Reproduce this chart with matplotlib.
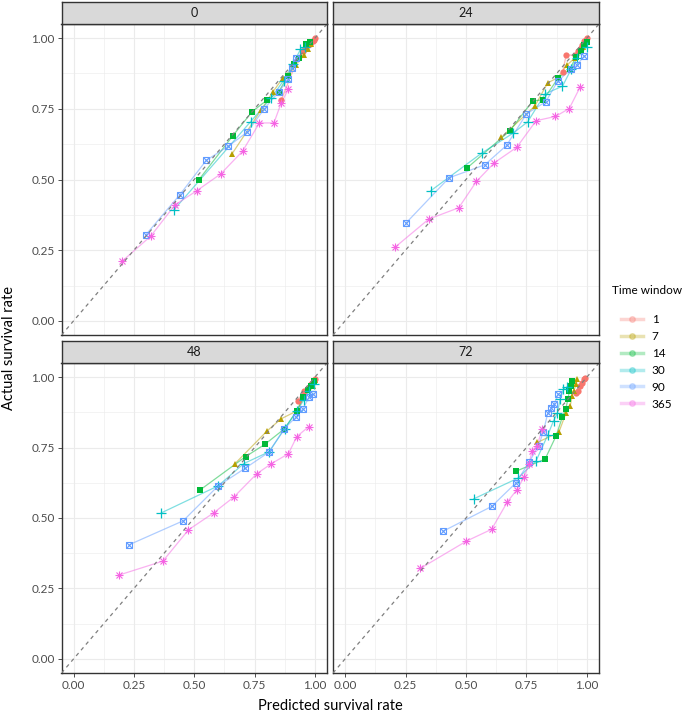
import matplotlib
matplotlib.use('Agg')
import matplotlib.pyplot as plt
from matplotlib.lines import Line2D
import numpy as np

plt.rcParams['font.family'] = ['Lato', 'DejaVu Sans']

windows = ['1', '7', '14', '30', '90', '365']
colors = ['#F8766D', '#B79F00', '#00BA38', '#00BFC4', '#619CFF', '#F564E3']
hours = ['0', '24', '48', '72']

# predicted / actual survival per hour panel, one list per time window
pred_h0 = [
    [0.86, 0.93, 0.95, 0.96, 0.97, 0.98, 0.985, 0.99, 0.995, 1.0],
    [0.656, 0.777, 0.826, 0.866, 0.89, 0.92, 0.956, 0.97, 0.985],
    [0.52, 0.66, 0.74, 0.80, 0.85, 0.887, 0.915, 0.935, 0.963, 0.98],
    [0.416, 0.734, 0.82, 0.87, 0.91, 0.94, 0.96],
    [0.30, 0.44, 0.55, 0.64, 0.72, 0.79, 0.85, 0.89, 0.905, 0.92],
    [0.20, 0.32, 0.42, 0.51, 0.61, 0.70, 0.77, 0.83, 0.86, 0.89],
]
act_h0 = [
    [0.78, 0.93, 0.955, 0.965, 0.975, 0.98, 0.985, 0.99, 0.993, 1.0],
    [0.59, 0.746, 0.81, 0.858, 0.87, 0.905, 0.94, 0.96, 0.98],
    [0.50, 0.655, 0.74, 0.78, 0.81, 0.866, 0.907, 0.93, 0.98, 0.985],
    [0.393, 0.705, 0.79, 0.85, 0.91, 0.96, 0.97],
    [0.305, 0.446, 0.568, 0.617, 0.668, 0.75, 0.81, 0.855, 0.895, 0.93],
    [0.21, 0.30, 0.41, 0.46, 0.52, 0.60, 0.70, 0.70, 0.77, 0.82],
]

pred_h24 = [
    [0.90, 0.914, 0.95, 0.965, 0.975, 0.98, 0.986, 0.99, 0.995, 1.0],
    [0.646, 0.785, 0.838, 0.88, 0.917, 0.95, 0.975, 0.985, 0.995],
    [0.505, 0.682, 0.776, 0.82, 0.882, 0.93, 0.954, 0.976, 0.989, 1.0],
    [0.354, 0.566, 0.695, 0.755, 0.827, 0.899, 0.935, 0.96, 1.0],
    [0.252, 0.43, 0.578, 0.668, 0.75, 0.83, 0.88, 0.935, 0.96, 0.989],
    [0.206, 0.346, 0.47, 0.543, 0.617, 0.71, 0.79, 0.87, 0.927, 0.972],
]
act_h24 = [
    [0.88, 0.94, 0.94, 0.955, 0.965, 0.975, 0.983, 0.99, 0.995, 1.0],
    [0.649, 0.76, 0.842, 0.86, 0.904, 0.93, 0.958, 0.97, 0.985],
    [0.541, 0.673, 0.778, 0.782, 0.86, 0.89, 0.933, 0.955, 0.975, 0.985],
    [0.46, 0.594, 0.664, 0.704, 0.803, 0.83, 0.89, 0.93, 0.97],
    [0.346, 0.506, 0.552, 0.621, 0.732, 0.775, 0.849, 0.89, 0.905, 0.938],
    [0.26, 0.36, 0.40, 0.493, 0.559, 0.614, 0.708, 0.723, 0.751, 0.827],
]

pred_h48 = [
    [0.928, 0.955, 0.97, 0.985, 0.995, 1.0],
    [0.669, 0.803, 0.86, 0.925, 0.955, 0.975, 0.99, 1.0],
    [0.525, 0.713, 0.792, 0.873, 0.925, 0.952, 0.97, 0.985, 0.995],
    [0.363, 0.599, 0.705, 0.81, 0.875, 0.925, 0.955, 0.975, 0.995],
    [0.23, 0.454, 0.599, 0.71, 0.81, 0.872, 0.92, 0.95, 0.975, 0.99],
    [0.19, 0.37, 0.476, 0.58, 0.665, 0.759, 0.82, 0.89, 0.925, 0.974],
]
act_h48 = [
    [0.916, 0.95, 0.96, 0.975, 0.985, 0.995],
    [0.693, 0.81, 0.852, 0.88, 0.93, 0.955, 0.97, 0.99],
    [0.60, 0.718, 0.761, 0.816, 0.88, 0.93, 0.955, 0.97, 0.985],
    [0.518, 0.614, 0.693, 0.735, 0.817, 0.88, 0.92, 0.95, 0.976],
    [0.405, 0.49, 0.614, 0.676, 0.734, 0.816, 0.857, 0.887, 0.928, 0.94],
    [0.298, 0.347, 0.458, 0.518, 0.575, 0.657, 0.693, 0.728, 0.789, 0.824],
]

pred_h72 = [
    [0.954, 0.965, 0.972, 0.979, 0.986, 0.993],
    [0.795, 0.884, 0.914, 0.931, 0.939, 0.946, 0.955, 0.961],
    [0.707, 0.827, 0.873, 0.899, 0.913, 0.921, 0.928, 0.934, 0.94],
    [0.532, 0.714, 0.79, 0.838, 0.862, 0.878, 0.889, 0.903, 0.917],
    [0.405, 0.606, 0.707, 0.762, 0.80, 0.82, 0.838, 0.852, 0.864, 0.882],
    [0.311, 0.502, 0.606, 0.671, 0.711, 0.74, 0.76, 0.774, 0.793, 0.816],
]
act_h72 = [
    [0.945, 0.95, 0.967, 0.98, 0.992, 0.998],
    [0.768, 0.804, 0.874, 0.898, 0.933, 0.951, 0.974, 0.994],
    [0.666, 0.709, 0.792, 0.86, 0.888, 0.921, 0.951, 0.97, 0.986],
    [0.568, 0.641, 0.703, 0.794, 0.845, 0.872, 0.921, 0.957, 0.965],
    [0.453, 0.541, 0.625, 0.70, 0.756, 0.806, 0.872, 0.89, 0.904, 0.941],
    [0.321, 0.418, 0.46, 0.557, 0.601, 0.645, 0.692, 0.739, 0.756, 0.815],
]

panels = [(pred_h0, act_h0), (pred_h24, act_h24), (pred_h48, act_h48), (pred_h72, act_h72)]


def draw_points(ax, x, y, k, c):
    if k == 0:
        ax.plot(x, y, 'o', color=c, ms=4.5, mew=0, zorder=3)
    elif k == 1:
        ax.plot(x, y, '^', color=c, ms=5, mew=0, zorder=3)
    elif k == 2:
        ax.plot(x, y, 's', color=c, ms=4.3, mew=0, zorder=3)
    elif k == 3:
        ax.plot(x, y, '+', color=c, ms=6.5, mew=0.9, zorder=3)
    elif k == 4:
        ax.plot(x, y, 's', mfc='none', mec=c, ms=5, mew=0.8, zorder=3)
        ax.plot(x, y, 'x', color=c, ms=4, mew=0.8, zorder=3)
    else:
        ax.plot(x, y, '+', color=c, ms=6, mew=0.8, zorder=3)
        ax.plot(x, y, 'x', color=c, ms=4.5, mew=0.8, zorder=3)


fig = plt.figure(figsize=(6.85, 7.14), dpi=100)
W, H = 685, 714
cols = [(61.5, 327), (333, 599)]
rows = [(24, 335), (363, 673)]
strip_h = 22
ticks = [0, 0.25, 0.5, 0.75, 1.0]
tlabels = ['0.00', '0.25', '0.50', '0.75', '1.00']

for i, (pred, act) in enumerate(panels):
    r, cidx = divmod(i, 2)
    x0, x1 = cols[cidx]
    y0, y1 = rows[r]
    ax = fig.add_axes([x0 / W, 1 - y1 / H, (x1 - x0) / W, (y1 - y0) / H])
    ax.set_xlim(-0.05, 1.05)
    ax.set_ylim(-0.05, 1.05)
    ax.set_xticks(ticks)
    ax.set_yticks(ticks)
    ax.set_xticks(np.arange(0.125, 1.0, 0.25), minor=True)
    ax.set_yticks(np.arange(0.125, 1.0, 0.25), minor=True)
    ax.grid(which='major', color='#EBEBEB', lw=0.8, zorder=0)
    ax.grid(which='minor', color='#EBEBEB', lw=0.4, zorder=0)
    ax.tick_params(which='minor', length=0)
    ax.tick_params(which='major', length=3, width=0.6, color='#333333',
                   labelsize=8.5, labelcolor='#4D4D4D', pad=2)
    if r == 1:
        ax.set_xticklabels(tlabels)
    else:
        ax.tick_params(axis='x', length=0, labelbottom=False)
    if cidx == 0:
        ax.set_yticklabels(tlabels)
    else:
        ax.tick_params(axis='y', length=0, labelleft=False)
    for s in ax.spines.values():
        s.set_color('#333333')
        s.set_linewidth(1.0)
    ax.set_axisbelow(True)

    for k in range(len(windows)):
        x = np.array(pred[k])
        y = np.array(act[k])
        order = np.argsort(x)
        ax.plot(x[order], y[order], color=colors[k], lw=0.9, alpha=0.5, zorder=2)
        draw_points(ax, x, y, k, colors[k])
    ax.axline((0, 0), slope=1, color='#7F7F7F', lw=0.9, ls=(0, (3, 3)), zorder=4)

    sax = fig.add_axes([x0 / W, 1 - y0 / H, (x1 - x0) / W, strip_h / H])
    sax.set_facecolor('#D9D9D9')
    sax.set_xticks([])
    sax.set_yticks([])
    for s in sax.spines.values():
        s.set_color('#333333')
        s.set_linewidth(1.0)
    sax.text(0.5, 0.5, hours[i], ha='center', va='center', fontsize=9, color='#1A1A1A',
             transform=sax.transAxes)

fig.text(330 / W, 1 - 706 / H, 'Predicted survival rate', ha='center', va='center', fontsize=10.5)
fig.text(9 / W, 1 - 348 / H, 'Actual survival rate', ha='center', va='center', fontsize=10.5,
         rotation=90)

# legend: title as separate text so the gap below it matches
fig.text(612 / W, 1 - 291 / H, 'Time window', ha='left', va='center', fontsize=8.5)
handles = [Line2D([0], [0], color=c, lw=2.5, alpha=0.3, marker='o', ms=4,
                  mfc=c, mec=c) for c in colors]
leg = fig.legend(handles, windows, loc='upper left',
                 bbox_to_anchor=(621 / W, 1 - 314 / H), frameon=False, fontsize=8.5,
                 handlelength=1.9, labelspacing=0.5, handletextpad=0.7,
                 borderaxespad=0, borderpad=0)

fig.savefig('out.png', dpi=100)
